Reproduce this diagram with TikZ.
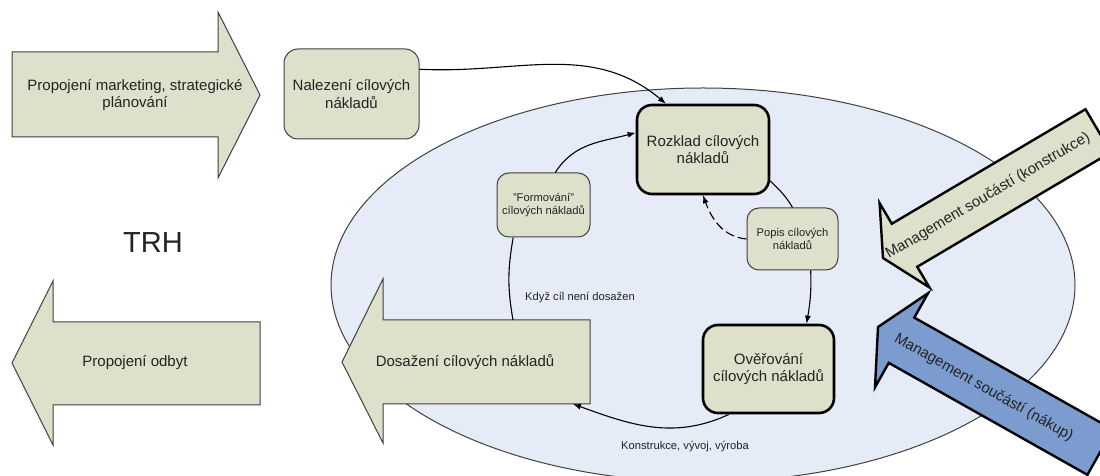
\documentclass[tikz,border=0pt]{standalone}
\usepackage{fontspec}
\setmainfont{Liberation Sans}
\usetikzlibrary{arrows.meta,calc}

\definecolor{boxgreen}{RGB}{221,224,202}
\definecolor{ovalblue}{RGB}{229,235,247}
\definecolor{arrowblue}{RGB}{124,155,206}
\definecolor{edgegray}{RGB}{64,64,64}
\definecolor{inkgray}{RGB}{35,35,35}

\begin{document}
\begin{tikzpicture}[x=1pt,y=1pt,
  font=\fontsize{15}{17.5}\selectfont, text=inkgray,
  thinbox/.style={draw=edgegray, line width=1pt, fill=boxgreen, rounded corners=14pt,
    align=center, inner sep=0pt},
  thickbox/.style={draw=black, line width=2.6pt, fill=boxgreen, rounded corners=15pt,
    align=center, inner sep=0pt},
  smallbox/.style={draw=edgegray, line width=1pt, fill=boxgreen, rounded corners=12pt,
    align=center, inner sep=0pt, font=\fontsize{11.2}{13.5}\selectfont},
  blockarrow/.style={draw=edgegray, line width=1pt, fill=boxgreen, line join=miter},
  mgmtarrow/.style={draw=black, line width=2.4pt, line join=miter},
  flow/.style={draw=black, line width=1.1pt, -{Latex[length=8pt,width=6pt]}},
  link/.style={draw=black, line width=1.1pt},
  label/.style={align=center, inner sep=0pt},
  smalltext/.style={font=\fontsize{11.2}{13.5}\selectfont, inner sep=0pt},
]
\useasboundingbox (0,0) rectangle (1100,476);
\clip (0,0) rectangle (1100,476);
\fill[white] (0,0) rectangle (1100,476);

% the oval holding the cost cycle
\draw[fill=ovalblue, draw=edgegray, line width=1pt] (703,191) ellipse [x radius=372pt, y radius=197pt];

% block arrows to and from the market
\draw[blockarrow] (12,339) -- (218,339) -- (218,298) -- (260,381) -- (218,464) -- (218,424) -- (12,424) -- cycle;
\node[label] (mkt) at (135,381) {Propojení marketing, strategické\\plánování};

\draw[blockarrow] (260,71) -- (53,71) -- (53,31) -- (12,113) -- (53,195) -- (53,154) -- (260,154) -- cycle;
\node[label] (odbyt) at (135,113) {Propojení odbyt};

\node[label, font=\fontsize{29}{32}\selectfont] (trh) at (153,233) {TRH};

\draw[blockarrow] (590,72) -- (383,72) -- (383,33) -- (342,114) -- (383,197) -- (383,156) -- (590,156) -- cycle;
\node[label] (dos) at (465,114) {Dosažení cílových nákladů};
\coordinate (dosT) at (513,156);
\coordinate (dosB) at (573,72);

% component management arrows
\begin{scope}[shift={(883,218)}, rotate=30.6]
  \draw[mgmtarrow, fill=boxgreen] (0,0) -- (25,49) -- (25,25) -- (250,25) -- (250,-25) -- (25,-25) -- (25,-49) -- cycle;
  \node[label, transform shape] (mgk) at (122,0) {Management součástí (konstrukce)};
\end{scope}
\begin{scope}[shift={(878,149)}, rotate=-29.4]
  \draw[mgmtarrow, fill=arrowblue] (0,0) -- (27,54) -- (27,26) -- (255,26) -- (255,-26) -- (27,-26) -- (27,-54) -- cycle;
  \node[label, transform shape] (mgn) at (122,-1) {Management součástí (nákup)};
\end{scope}

% cost boxes
\node[thinbox, minimum width=135pt, minimum height=90pt] (nal) at (351.5,382) {Nalezení cílových\\nákladů};
\node[thickbox, minimum width=132pt, minimum height=89pt] (rozk) at (703,326.5) {Rozklad cílových\\nákladů};
\node[smallbox, minimum width=93pt, minimum height=64pt] (form) at (543.5,271) {"Formování"\\cílových nákladů};
\node[smallbox, minimum width=91pt, minimum height=62pt] (pop) at (792.5,237) {Popis cílových\\nákladů};
\node[thickbox, minimum width=131pt, minimum height=88pt] (ove) at (768.5,107) {Ověřování\\cílových nákladů};

% connectors
\draw[flow] (nal.20) to[out=-3, in=140] (rozk.129);
\draw[flow] (form.70) to[out=58, in=195] (rozk.166);
\draw[link] (rozk.-25) to[out=-45, in=120] (pop.north);
\draw[flow] (pop.-60) to[out=-88, in=80] (ove.50);
\draw[flow, dash pattern=on 9pt off 4pt] (pop.west) to[out=175, in=-70] (rozk.south);
\draw[flow] (ove.229) to[out=205, in=-20] (dosB);
\draw[link] (dosT) to[out=100, in=-100] (form.227);

% connector labels
\node[smalltext] (kdyz) at (580,178) {Když cíl není dosažen};
\node[smalltext] (kvv) at (685,29) {Konstrukce, vývoj, výroba};
\end{tikzpicture}
\end{document}
